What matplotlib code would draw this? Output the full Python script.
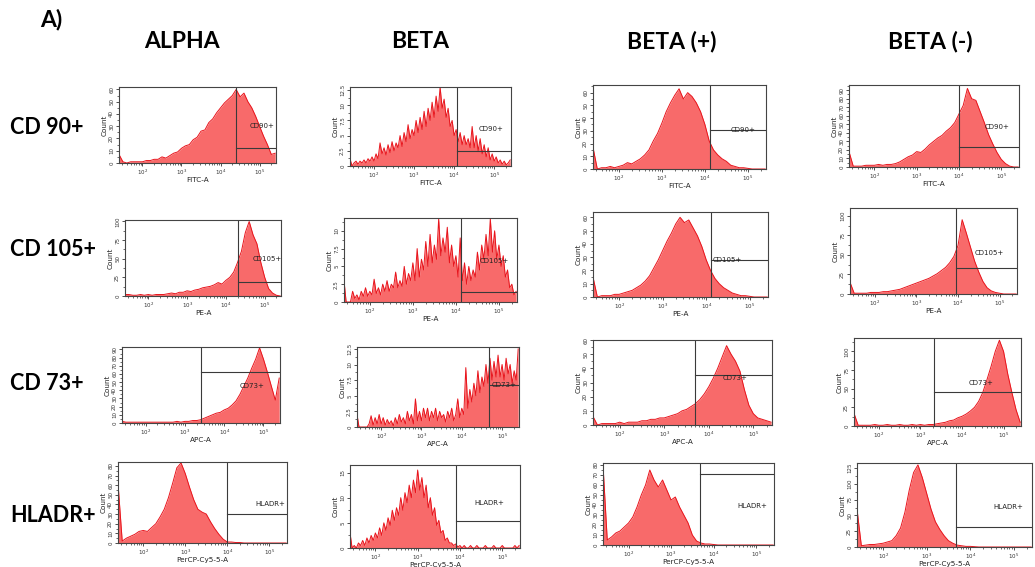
import numpy as np
import matplotlib.pyplot as plt
from matplotlib.ticker import LogLocator, NullFormatter, FixedLocator

W, H = 1035, 567

columns = ["ALPHA", "BETA", "BETA (+)", "BETA (-)"]
markers = ["CD 90+", "CD 105+", "CD 73+", "HLADR+"]
channels = ["FITC-A", "PE-A", "APC-A", "PerCP-Cy5-5-A"]
gate_names = ["CD90+", "CD105+", "CD73+", "HLADR+"]

# bin centres, log10 of fluorescence (coarse for the smooth sorted/alpha
# populations, finer for the sparse and noisy BETA population)
log_bins = np.round(np.arange(1.4, 5.41, 0.1), 2)
log_bins_fine = np.round(np.arange(1.4, 5.401, 0.05), 2)

# counts per bin
alpha_cd90 = [7, 1, 0, 1, 1, 1, 1, 2, 2, 3, 3, 5, 4, 6, 8, 9, 12, 14, 15, 19, 21, 26, 27, 33, 36, 41,
              45, 49, 52, 55, 60, 54, 57, 50, 45, 38, 30, 22, 15, 7, 8]
beta_cd90 = [1.2, 0, 0.5, 0.8, 0.3, 0.8, 0.5, 1.0, 0.5, 1.2,
             0.8, 1.5, 0.8, 2.0, 1.2, 3.8, 2.0, 3.0, 1.8, 3.5,
             2.2, 4.0, 2.5, 3.8, 3.0, 5.0, 3.2, 5.5, 4.0, 6.8,
             4.5, 6.0, 5.0, 7.5, 5.5, 8.0, 6.0, 9.0, 6.5, 9.5,
             7.5, 10.5, 8.0, 11.5, 9.0, 13.0, 9.5, 11.0, 8.0, 9.5,
             6.5, 7.5, 5.0, 6.0, 4.0, 5.5, 3.5, 5.0, 3.5, 4.5,
             3.0, 6.5, 3.0, 5.0, 2.5, 4.5, 2.0, 3.5, 1.5, 3.0,
             1.0, 2.0, 0.8, 1.5, 0.5, 1.0, 0.3, 0.8, 0.2, 0.5,
             1.0]
betap_cd90 = [17, 0, 1, 1, 2, 1, 2, 3, 5, 4, 6, 8, 11, 15, 22, 28, 36, 45, 52, 58, 63, 55, 60, 57, 52,
              45, 35, 22, 15, 11, 8, 6, 3, 2, 1, 1, 0.5, 0, 0, 0, 0]
betam_cd90 = [18, 1, 1, 1, 2, 2, 2, 3, 2, 3, 3, 4, 6, 9, 12, 14, 18, 17, 21, 26, 30, 34, 37, 42, 46,
              52, 62, 72, 92, 80, 78, 65, 52, 38, 27, 17, 9, 4, 1, 0, 0]

alpha_cd105 = [2, 2, 1, 1, 2, 1, 2, 1, 2, 2, 2, 3, 4, 3, 5, 5, 7, 6, 8, 9, 11, 12, 13, 15, 18, 16,
               21, 25, 32, 45, 60, 85, 100, 82, 70, 45, 25, 10, 4, 1, 0]
beta_cd105 = [3.0, 0, 0, 0, 1.5, 0.5, 1.0, 0.3, 1.5, 0.8,
              2.0, 0.8, 1.5, 1.0, 3.2, 1.2, 2.0, 1.0, 2.5, 1.5,
              3.0, 1.5, 2.5, 2.0, 4.2, 2.0, 3.0, 2.2, 5.0, 2.5,
              4.0, 3.0, 5.5, 3.0, 7.5, 3.5, 6.0, 4.5, 8.5, 5.0,
              9.5, 5.5, 8.0, 6.0, 11.7, 6.5, 9.0, 7.0, 10.5, 5.5,
              8.0, 5.0, 6.5, 3.5, 9.0, 3.0, 5.5, 2.5, 5.0, 3.0,
              4.5, 3.5, 7.0, 4.5, 8.0, 6.0, 9.5, 6.5, 11.7, 7.0,
              10.0, 6.0, 8.0, 5.0, 6.5, 3.5, 4.5, 2.0, 2.5, 1.0,
              1.5]
betap_cd105 = [15, 0, 1, 1, 1, 2, 2, 3, 4, 5, 7, 9, 12, 16, 22, 28, 35, 42, 48, 55, 60, 56, 58, 52,
               46, 38, 28, 20, 14, 10, 7, 5, 3, 2, 1, 1, 0.5, 0, 0, 0, 0]
betam_cd105 = [15, 1, 1, 1, 1, 2, 2, 2, 3, 3, 4, 5, 6, 8, 10, 12, 14, 16, 18, 20, 23, 26, 30, 34, 40,
               48, 62, 95, 78, 60, 42, 28, 16, 8, 4, 2, 1, 0, 0, 0, 0]

alpha_cd73 = [2, 1, 1, 1, 1, 1, 1, 1, 1, 1, 1, 1, 1, 1, 2, 1, 2, 2, 3, 3, 4, 6, 8, 10, 12, 13, 16,
              18, 22, 27, 35, 45, 55, 67, 78, 92, 78, 62, 45, 28, 55]
beta_cd73 = [2.0, 0, 0, 0, 0, 0, 0.5, 1.8, 0.3, 1.5,
             0.5, 2.0, 0.5, 1.5, 0.3, 1.2, 0.5, 1.0, 0.2, 1.5,
             0.5, 2.0, 0.8, 1.5, 0.5, 2.5, 1.0, 2.0, 0.5, 4.5,
             1.0, 2.5, 1.0, 3.0, 1.5, 3.0, 1.0, 2.5, 1.5, 3.0,
             1.0, 2.5, 1.5, 2.0, 0.8, 2.5, 1.5, 3.0, 1.0, 2.0,
             4.5, 1.5, 3.0, 2.0, 9.5, 3.0, 6.0, 4.0, 7.0, 5.0,
             9.0, 5.5, 8.0, 6.5, 10.0, 7.0, 11.0, 7.5, 10.5, 8.0,
             11.5, 8.0, 10.0, 7.5, 11.0, 8.5, 10.0, 7.0, 9.0, 7.5,
             12.5]
betap_cd73 = [6, 0, 1, 1, 1, 1, 2, 1, 2, 2, 2, 3, 3, 4, 4, 5, 5, 6, 7, 8, 10, 11, 13, 15, 18, 22, 27,
              33, 40, 48, 56, 50, 45, 38, 25, 14, 8, 5, 4, 3, 2]
betam_cd73 = [17, 1, 1, 1, 1, 2, 1, 1, 2, 1, 1, 2, 1, 1, 2, 1, 2, 1, 2, 2, 3, 4, 5, 7, 8, 11, 13, 16,
              20, 25, 33, 45, 62, 80, 100, 115, 100, 70, 45, 22, 5]

alpha_hladr = [62, 2, 5, 7, 9, 12, 13, 12, 16, 20, 27, 35, 47, 62, 78, 83, 72, 58, 45, 35, 32, 30, 22,
               15, 9, 4, 1, 1, 0.5, 0.5, 0, 0, 0, 0, 0, 0, 0, 0, 0, 0, 0]
beta_hladr = [3.0, 0, 0.5, 0, 1.0, 0.5, 1.5, 0.5, 2.0, 1.0,
              2.5, 1.5, 3.0, 2.0, 4.0, 2.5, 5.0, 3.5, 6.0, 4.5,
              7.5, 5.5, 8.0, 6.5, 10.0, 7.5, 11.0, 9.0, 12.5, 10.0,
              13.5, 11.0, 15.5, 11.5, 14.0, 10.0, 12.5, 8.0, 10.0, 6.5,
              8.0, 4.5, 5.5, 3.0, 3.5, 1.5, 2.0, 1.0, 1.0, 0.5,
              0.8, 0.2, 0.5, 0, 0.5, 0, 0, 0.5, 0, 0,
              0.5, 0, 0, 0, 0.5, 0, 0, 0, 0.5, 0,
              0, 0, 0.5, 0, 0, 0, 0, 0, 0.5, 0,
              0.5]
betap_hladr = [80, 5, 8, 12, 14, 18, 22, 28, 38, 50, 60, 75, 65, 58, 65, 55, 45, 48, 38, 30, 22, 10,
               4, 2, 1, 1, 0.5, 0, 0, 0, 0, 0, 0, 0, 0, 0, 0, 0, 0, 0, 0]
betam_hladr = [60, 2, 3, 4, 4, 5, 6, 8, 10, 18, 30, 55, 90, 118, 130, 110, 85, 60, 40, 28, 18, 10,
               6, 3, 2, 1, 1, 0.5, 0, 0, 0, 0, 0, 0, 0, 0, 0, 0, 0, 0, 0]

counts = [
    [alpha_cd90, beta_cd90, betap_cd90, betam_cd90],
    [alpha_cd105, beta_cd105, betap_cd105, betam_cd105],
    [alpha_cd73, beta_cd73, betap_cd73, betam_cd73],
    [alpha_hladr, beta_hladr, betap_hladr, betam_hladr],
]

# y-axis top and tick step per panel
y_top = [[62, 13, 66, 96], [102, 11.8, 64, 110], [93, 12.8, 60, 118], [84, 16.5, 82, 133]]
y_step = [[10, 2.5, 10, 10], [25, 2.5, 10, 25], [10, 2.5, 10, 25], [10, 5, 10, 25]]

# gates: vertical position (log10), horizontal level (count), label position (log10, count)
gate_x = [[4.4, 4.06, 4.11, 4.0], [4.3, 4.13, 4.1, 3.95], [3.4, 4.68, 3.7, 3.32], [4.0, 3.9, 3.69, 3.68]]
gate_y = [[12, 2.5, 30.5, 24], [19, 1.4, 28, 33], [63, 6.75, 35, 45.6], [30, 5.3, 71, 32]]
label_x = [[4.75, 4.6, 4.6, 4.6], [4.7, 4.55, 4.15, 4.4], [4.4, 4.75, 4.3, 4.16], [4.66, 4.35, 4.57, 4.53]]
label_y = [[30, 6.1, 30.5, 47], [50, 5.8, 28, 52], [45, 6.75, 33, 57], [40, 9, 39, 63]]

# axes boxes in pixels: left, top, right, bottom
boxes = [
    [(119, 87, 276, 163), (350, 87, 511, 166), (593, 85, 766, 169), (849, 85, 1019, 167)],
    [(125, 220, 281, 296), (344, 218, 517, 302), (593, 212, 768, 297), (850, 208, 1017, 294)],
    [(122, 347, 280, 423), (357, 347, 519, 427), (593, 340, 772, 425), (854, 338, 1021, 426)],
    [(118, 462, 287, 543), (350, 465, 520, 548), (603, 463, 774, 545), (857, 463, 1032, 547)],
]

FILL = "#f86a6a"
EDGE = "#e8141c"
GATE = "#3a3a3a"

fig = plt.figure(figsize=(W / 100, H / 100), dpi=100)
x_lo, x_hi = 10 ** 1.4, 10 ** 5.42

for r in range(4):
    for c in range(4):
        l, t, rr, b = boxes[r][c]
        ax = fig.add_axes([l / W, 1 - b / H, (rr - l) / W, (b - t) / H])
        y = np.array(counts[r][c], dtype=float)
        x_vals = 10 ** (log_bins_fine if len(y) == len(log_bins_fine) else log_bins)
        ax.fill_between(x_vals, 0, y, color=FILL, lw=0)
        ax.plot(x_vals, y, color=EDGE, lw=0.7)
        ax.set_xscale("log")
        ax.set_xlim(x_lo, x_hi)
        ax.set_ylim(0, y_top[r][c])

        gx = 10 ** gate_x[r][c]
        ax.axvline(gx, color=GATE, lw=0.8)
        ax.plot([gx, x_hi], [gate_y[r][c]] * 2, color=GATE, lw=0.8)
        ax.text(10 ** label_x[r][c], label_y[r][c], gate_names[r], fontsize=5,
                color="#222222", va="center", ha="left")

        ax.xaxis.set_major_locator(FixedLocator([1e2, 1e3, 1e4, 1e5]))
        ax.xaxis.set_minor_locator(LogLocator(base=10, subs=np.arange(2, 10), numticks=20))
        ax.xaxis.set_minor_formatter(NullFormatter())
        ax.set_xticklabels([r"$10^2$", r"$10^3$", r"$10^4$", r"$10^5$"])
        step = y_step[r][c]
        ax.yaxis.set_major_locator(FixedLocator(np.arange(0, y_top[r][c] + 0.01, step)))
        ax.yaxis.set_minor_locator(FixedLocator(np.arange(0, y_top[r][c] + 0.01, step / 2)))
        ax.yaxis.set_major_formatter(plt.FuncFormatter(lambda v, p: f"{v:g}"))
        ax.tick_params(axis="both", which="major", labelsize=4, length=2.5, width=0.6, pad=1,
                       colors="#333333")
        ax.tick_params(axis="both", which="minor", length=1.5, width=0.5, colors="#333333")
        for lab in ax.get_yticklabels():
            lab.set_rotation(90)
            lab.set_va("center")
        ax.set_xlabel(channels[r], fontsize=5.2, labelpad=0, color="#222222")
        ax.set_ylabel("Count", fontsize=5.2, labelpad=1, color="#222222")
        for s in ax.spines.values():
            s.set_linewidth(0.8)
            s.set_color("#444444")

head_font = dict(fontfamily="Lato", fontweight="bold", fontsize=16.5, color="black")
row_font = dict(fontfamily="Lato", fontweight="bold", fontsize=15.5, color="black")
fig.text(51 / W, 1 - 20 / H, "A)", ha="center", va="center", **head_font)
for x, name in zip([182, 420, 672, 930], columns):
    fig.text(x / W, 1 - 42 / H, name, ha="center", va="center", **head_font)
for y, name in zip([127, 250, 383, 516], markers):
    fig.text(10 / W, 1 - y / H, name, ha="left", va="center", **row_font)

fig.savefig("out.png", dpi=100)
